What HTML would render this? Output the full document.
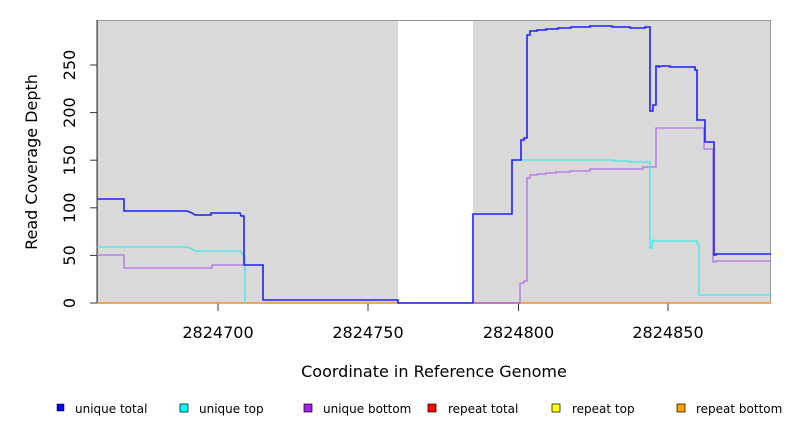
<!DOCTYPE html>
<html><head><style>body{margin:0;background:#fff}svg{display:block;font-family:"DejaVu Sans","Liberation Sans",sans-serif}</style></head>
<body>
<svg width="792" height="432" viewBox="0 0 792 432">
<rect x="97" y="20" width="674" height="283" fill="#d9d9d9"/>
<rect x="398" y="20" width="75" height="283" fill="#fff"/>
<line x1="398" y1="20.5" x2="473" y2="20.5" stroke="#888"/>
<rect x="97.5" y="20.5" width="673" height="282.5" fill="none" stroke="#999"/>
<g stroke="#333" fill="none">
<line x1="97" y1="303" x2="97" y2="20"/>
<line x1="90" y1="303" x2="97" y2="303"/><line x1="90" y1="255.4" x2="97" y2="255.4"/>
<line x1="90" y1="207.8" x2="97" y2="207.8"/><line x1="90" y1="160.2" x2="97" y2="160.2"/>
<line x1="90" y1="112.6" x2="97" y2="112.6"/><line x1="90" y1="65" x2="97" y2="65"/>
<line x1="218" y1="303" x2="218" y2="311"/><line x1="368" y1="303" x2="368" y2="311"/>
<line x1="518.5" y1="303" x2="518.5" y2="311"/><line x1="668" y1="303" x2="668" y2="311"/>
</g>
<g font-size="16" fill="#000" text-anchor="middle">
<text transform="translate(75,303) rotate(-90)">0</text>
<text transform="translate(75,255.4) rotate(-90)">50</text>
<text transform="translate(75,207.8) rotate(-90)">100</text>
<text transform="translate(75,160.2) rotate(-90)">150</text>
<text transform="translate(75,112.6) rotate(-90)">200</text>
<text transform="translate(75,65) rotate(-90)">250</text>
<text x="218" y="338">2824700</text><text x="368" y="338">2824750</text>
<text x="518.5" y="338">2824800</text><text x="668" y="338">2824850</text>
<text x="434" y="377">Coordinate in Reference Genome</text>
<text transform="translate(37,162) rotate(-90)">Read Coverage Depth</text>
</g>
<line x1="97" y1="303" x2="771" y2="303" stroke="#f39020" stroke-width="1.5"/>
<line x1="473" y1="303" x2="520" y2="303" stroke="#d04060" stroke-width="1.5"/>
<g fill="none" stroke-width="1.3">
<polyline stroke="#b070e8" points="97,255 124,255 124,268 212,268 212,265 244,265"/>
<polyline stroke="#40e8e8" points="97,247 187,247 192,249 195,251 240,251 244,256 245,256 245,303"/>
<polyline stroke="#2020ff" stroke-width="1.6" points="97,199 124,199 124,211 187,211 192,213 195,215 203,215 211,215 211,213 240,213 241,216 244,216 244,265 263,265 263,300 398,300 398,303 473,303"/>
<polyline stroke="#b070e8" points="473,303 520,303 520,283 524,283 524,281 527,281 527,178 530,178 530,175 537,175 537,174 546,174 546,173 556,173 556,172 570,172 570,171 590,171 590,169 643,169 643,167 656,167 656,128 704,128 704,149 713,149 713,262 716,262 716,261 771,261"/>
<polyline stroke="#40e8e8" points="512,160 614,160 614,161 630,161 630,162 650,162 650,248 652,248 653,240 655,241 697,241 697,244 699,244 699,295 771,295"/>
<polyline stroke="#2020ff" stroke-width="1.6" points="473,303 473,214 512,214 512,160 521,160 521,140 524,140 524,138 527,138 527,35 530,35 530,31 537,31 537,30 546,30 546,29 558,29 558,28 571,28 571,27 590,27 590,26 612,26 612,27 630,27 630,28 645,28 645,27 650,27 650,111 653,111 653,105 656,105 656,66 659,66 659,67 662,66 670,66 670,67 695,67 695,70 697,70 697,120 705,120 705,142 714,142 714,255 716,255 716,254 771,254"/>
</g>
<g font-size="12" fill="#000">
<rect x="57" y="404" width="7" height="7" fill="#0000ff" stroke="#000" stroke-width="0.5"/><text x="75" y="413">unique total</text>
<rect x="180" y="404" width="8" height="8" fill="#00ffff" stroke="#000" stroke-width="0.7"/><text x="199" y="413">unique top</text>
<rect x="304" y="404" width="8" height="8" fill="#a020f0" stroke="#000" stroke-width="0.7"/><text x="323" y="413">unique bottom</text>
<rect x="428" y="404" width="8" height="8" fill="#ff0000" stroke="#000" stroke-width="0.7"/><text x="448" y="413">repeat total</text>
<rect x="552" y="404" width="8" height="8" fill="#ffff00" stroke="#000" stroke-width="0.7"/><text x="572" y="413">repeat top</text>
<rect x="677" y="404" width="8" height="8" fill="#ffa500" stroke="#000" stroke-width="0.7"/><text x="696" y="413">repeat bottom</text>
</g>
</svg>
</body></html>
